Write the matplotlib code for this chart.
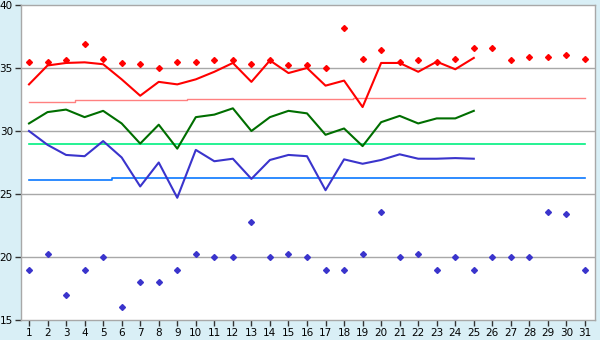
import matplotlib
matplotlib.use("Agg")
import matplotlib.pyplot as plt
import numpy as np

days = np.arange(1, 32)

# daily max points (red diamonds)
hi_pts = [35.5, 35.5, 35.6, 36.9, 35.7, 35.4, 35.3, 35.0, 35.5, 35.5,
          35.6, 35.6, 35.3, 35.6, 35.2, 35.2, 35.0, 38.2, 35.7, 36.4,
          35.5, 35.6, 35.5, 35.7, 36.6, 36.6, 35.6, 35.9, 35.85, 36.0, 35.7]
# daily min points (blue diamonds)
lo_pts = [19.0, 20.2, 17.0, 19.0, 20.0, 16.0, 18.0, 18.0, 19.0, 20.2,
          20.0, 20.0, 22.8, 20.0, 20.2, 20.0, 19.0, 19.0, 20.2, 23.6,
          20.0, 20.2, 19.0, 20.0, 19.0, 20.0, 20.0, 20.0, 23.6, 23.4, 19.0]

# lines, days 1-25
red_line = [33.7, 35.2, 35.4, 35.45, 35.3, 34.1, 32.8, 33.9, 33.7, 34.1,
            34.7, 35.4, 33.9, 35.6, 34.6, 35.0, 33.6, 34.0, 31.9, 35.4,
            35.4, 34.7, 35.5, 34.9, 35.8]
green_line = [30.6, 31.5, 31.7, 31.1, 31.6, 30.6, 29.0, 30.5, 28.6, 31.1,
              31.3, 31.8, 30.0, 31.1, 31.6, 31.4, 29.7, 30.2, 28.8, 30.7,
              31.2, 30.6, 31.0, 31.0, 31.6]
blue_line = [30.0, 28.9, 28.1, 28.0, 29.2, 27.9, 25.6, 27.5, 24.7, 28.5,
             27.6, 27.8, 26.2, 27.7, 28.1, 28.0, 25.3, 27.75, 27.4, 27.7,
             28.15, 27.8, 27.8, 27.85, 27.8]

# average levels per day
red_avg = [32.3] * 3 + [32.45] * 6 + [32.55] * 9 + [32.6] * 13
green_avg = [28.95] * 31
blue_avg = [26.1] * 5 + [26.25] * 26

bg = "#d9eff6"
fig = plt.figure(figsize=(6, 3.4), dpi=100, facecolor=bg)
ax = fig.add_axes([20.5 / 600, 20 / 340, 574.5 / 600, 315 / 340])
ax.set_facecolor("white")

for y in [20, 25, 30, 35]:
    ax.axhline(y, color="#a8a8a8", lw=1.0, zorder=1)

ax.plot(days, red_avg, color="#ff8080", lw=1.0, drawstyle="steps-mid", zorder=2)
ax.plot(days, green_avg, color="#00f080", lw=1.2, drawstyle="steps-mid", zorder=2)
ax.plot(days, blue_avg, color="#0a78ff", lw=1.2, drawstyle="steps-mid", zorder=2)

n = len(red_line)
ax.plot(days[:n], red_line, color="#ff0000", lw=1.5, zorder=3)
ax.plot(days[:n], green_line, color="#006e00", lw=1.5, zorder=3)
ax.plot(days[:n], blue_line, color="#3a34cc", lw=1.5, zorder=3)

ax.plot(days, hi_pts, ls="none", marker="D", ms=3.0, color="#ff0000",
        mec="#ff0000", zorder=4)
ax.plot(days, lo_pts, ls="none", marker="D", ms=3.0, color="#3a34cc",
        mec="#3a34cc", zorder=4)

ax.set_xlim(1 - 8.5 / 18.533, 31 + 10 / 18.533)
ax.set_ylim(15, 40)
ax.set_xticks(days)
ax.set_yticks([15, 20, 25, 30, 35, 40])
ax.tick_params(axis="both", direction="out", length=4, width=1,
               color="#333333", labelsize=7.5, pad=1.5)

for s in ax.spines.values():
    s.set_color("#a8a8a8")
    s.set_linewidth(1.0)

fig.savefig("out.png", dpi=100, facecolor=bg)
